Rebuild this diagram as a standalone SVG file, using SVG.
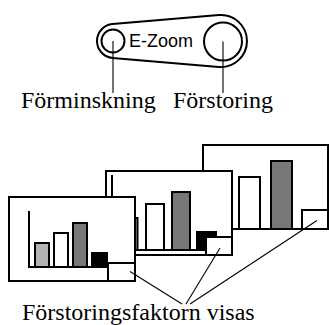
<svg xmlns="http://www.w3.org/2000/svg" width="329" height="325" viewBox="0 0 329 325">
  <style>
    .frame { fill: #fff; stroke: #000; stroke-width: 2; }
    .bar { stroke: #000; stroke-width: 2; }
    .axis { fill: none; stroke: #000; stroke-width: 2; }
    .lead { fill: none; stroke: #000; stroke-width: 1.1; }
    .lever { fill: #fff; stroke: #000; stroke-width: 2; }
    .label { font-family: "Liberation Serif", "Times New Roman", serif; font-size: 24px; fill: #000; }
    .sans { font-family: "Liberation Sans", Arial, sans-serif; font-size: 18px; fill: #000; }
    .lgray { fill: #b4b4b4; }
    .white { fill: #fff; }
    .dgray { fill: #777; }
    .black { fill: #000; }
  </style>

  <!-- zoom lever -->
  <g id="lever">
    <path class="lever" d="M112.57,24.06 L218.81,15.09 A26,26 0 1 1 218.81,66.91 L112.57,57.94 A17,17 0 0 1 112.57,24.06 Z"/>
    <circle class="lever" cx="113" cy="41" r="11.5"/>
    <circle class="lever" cx="223" cy="41.5" r="19"/>
    <text class="sans" x="129" y="47">E-Zoom</text>
  </g>

  <!-- back screen -->
  <g id="screen-back">
    <rect class="frame" x="203" y="145" width="125" height="84"/>
    <rect class="bar white" x="239" y="177" width="21" height="52"/>
    <rect class="bar dgray" x="271" y="161" width="21" height="68"/>
    <rect class="frame" x="302" y="210" width="26" height="19"/>
  </g>

  <!-- middle screen -->
  <g id="screen-middle">
    <rect class="frame" x="106" y="171" width="126" height="84"/>
    <path class="axis" d="M112,175 V250 H206"/>
    <rect class="bar lgray" x="119" y="218" width="18.5" height="32"/>
    <rect class="bar white" x="146" y="204" width="18" height="46"/>
    <rect class="bar dgray" x="172" y="192" width="18" height="58"/>
    <rect class="bar black" x="197" y="232" width="19" height="18"/>
    <rect class="frame" x="206" y="237" width="26" height="18"/>
  </g>

  <!-- front screen -->
  <g id="screen-front">
    <rect class="frame" x="9" y="197" width="126" height="84"/>
    <path class="axis" d="M29,211 V267 H108"/>
    <rect class="bar lgray" x="35" y="243" width="14" height="24"/>
    <rect class="bar white" x="54" y="233" width="14" height="34"/>
    <rect class="bar dgray" x="73" y="223" width="14" height="44"/>
    <rect class="bar black" x="92" y="253" width="15" height="14"/>
    <rect class="frame" x="108" y="263" width="27" height="18"/>
  </g>

  <!-- leader lines -->
  <g id="connectors">
    <line class="lead" x1="113" y1="41" x2="113" y2="93"/>
    <line class="lead" x1="223" y1="41.5" x2="223" y2="93"/>
    <line class="lead" x1="130" y1="271.5" x2="182" y2="304"/>
    <line class="lead" x1="220" y1="248" x2="186" y2="304"/>
    <line class="lead" x1="317" y1="220.5" x2="190" y2="304"/>
  </g>

  <!-- labels -->
  <g id="labels">
    <text class="label" x="21" y="108">Förminskning</text>
    <text class="label" x="173" y="108">Förstoring</text>
    <text class="label" x="22" y="320">Förstoringsfaktorn visas</text>
  </g>
</svg>
